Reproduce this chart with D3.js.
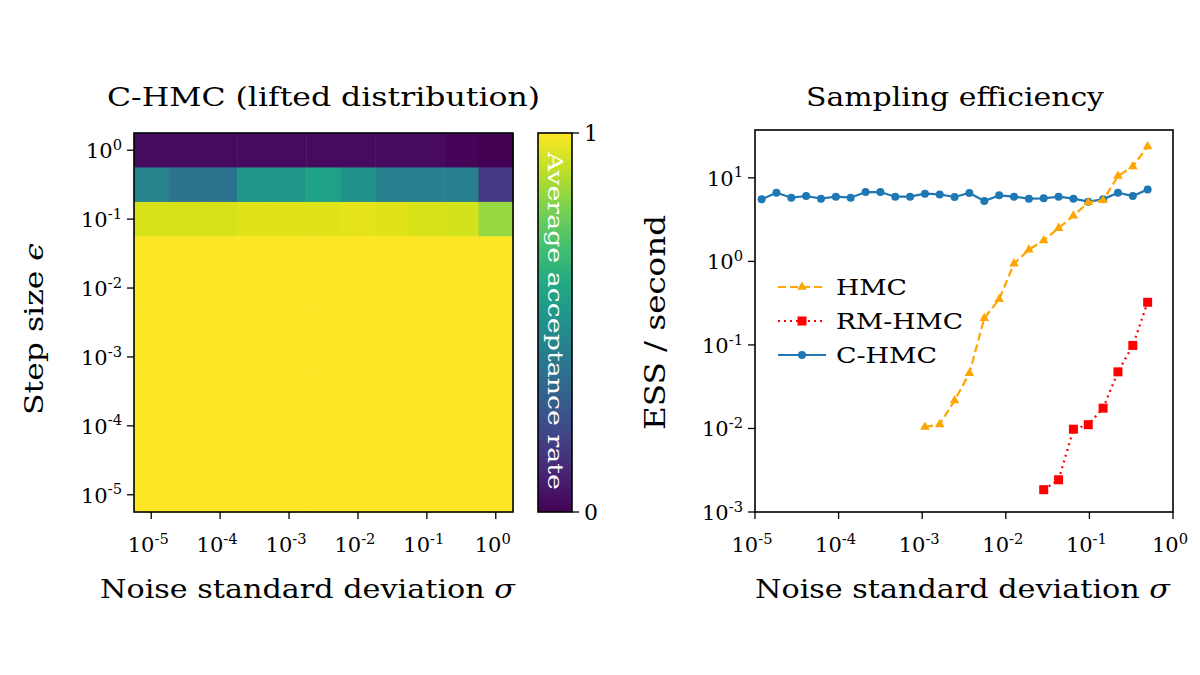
<!DOCTYPE html>
<html><head><meta charset="utf-8">
<script src="https://cdn.jsdelivr.net/npm/d3@7"></script>
<style>body{margin:0;background:#fff}text{font-family:"DejaVu Serif","Liberation Serif",serif;fill:#000}</style>
</head><body><svg id="c" width="1200" height="675"></svg>
<script>
// Heatmap data: log10 of sigma (columns) and log10 of step size (rows, top to bottom)
const sigmaExp = [-5,-4.5,-4,-3.5,-3,-2.5,-2,-1.5,-1,-0.5,0];
const epsExp = [0,-0.5,-1,-1.5,-2,-2.5,-3,-3.5,-4,-4.5,-5];
const acceptance = [
 [0.03,0.03,0.03,0.03,0.03,0.03,0.03,0.03,0.03,0.01,0.0],
 [0.45,0.38,0.38,0.53,0.53,0.57,0.50,0.43,0.43,0.43,0.17],
 [0.94,0.94,0.94,0.95,0.95,0.95,0.96,0.95,0.94,0.93,0.84],
 [1,1,1,1,1,1,1,1,1,1,1],[1,1,1,1,1,1,1,1,1,1,1],[1,1,1,1,1,1,1,1,1,1,1],
 [1,1,1,1,1,1,1,1,1,1,1],[1,1,1,1,1,1,1,1,1,1,1],[1,1,1,1,1,1,1,1,1,1,1],
 [1,1,1,1,1,1,1,1,1,1,1],[1,1,1,1,1,1,1,1,1,1,1]];
// Efficiency data
const sigmaC = [1.2e-5,1.806e-5,2.72e-5,4.09e-5,6.16e-5,9.27e-5,1.395e-4,2.1e-4,3.16e-4,4.76e-4,7.16e-4,1.078e-3,1.62e-3,2.44e-3,3.67e-3,5.53e-3,8.33e-3,1.254e-2,1.887e-2,2.84e-2,4.28e-2,6.44e-2,9.69e-2,0.1459,0.2196,0.3305,0.4975];
const essC = [5.53,6.64,5.79,6.06,5.64,5.95,5.79,6.76,6.76,5.95,5.95,6.46,6.34,5.9,6.58,5.28,6.17,5.95,5.64,5.69,5.95,5.64,5.19,5.53,6.64,6.06,7.26];
const sigmaH = sigmaC.slice(11);
const essH = [0.0104,0.0112,0.0216,0.0459,0.209,0.352,0.94,1.38,1.78,2.5,3.52,5.06,5.38,10.5,13.7,23.7];
const sigmaRM = sigmaC.slice(19);
const essRM = [0.00185,0.00243,0.0098,0.0111,0.0175,0.0476,0.0986,0.324];
const xTicks=[-5,-4,-3,-2,-1,0], yTicksL=[0,-1,-2,-3,-4,-5], yTicksR=[1,0,-1,-2,-3];

const svg=d3.select("#c");
function pow10(g,e,x,y,anchor,size){
  const t=g.append("text").attr("x",x).attr("y",y).attr("text-anchor",anchor).style("font-size",size+"px");
  t.append("tspan").text("10");
  t.append("tspan").attr("dy",-size*0.4).style("font-size",(size*0.7)+"px").text(e);
  return t;
}
function fit(t,len){return t.attr("textLength",len).attr("lengthAdjust","spacingAndGlyphs");}
// Left heatmap
const L={x0:134,x1:513,y0:133,y1:512};
const hx=d3.scaleLinear().domain([-5.25,0.25]).range([L.x0,L.x1]);
const hy=d3.scaleLinear().domain([0.25,-5.25]).range([L.y0,L.y1]);
const col=d3.scaleSequential(d3.interpolateViridis).domain([0,1]);
const gL=svg.append("g");
acceptance.forEach((row,i)=>row.forEach((v,j)=>{
  gL.append("rect").attr("x",hx(sigmaExp[j]-0.25)).attr("y",hy(epsExp[i]+0.25))
   .attr("width",hx(sigmaExp[j]+0.25)-hx(sigmaExp[j]-0.25)+0.5).attr("height",hy(epsExp[i]-0.25)-hy(epsExp[i]+0.25)+0.5).attr("fill",col(v));
}));
gL.append("rect").attr("x",L.x0).attr("y",L.y0).attr("width",L.x1-L.x0).attr("height",L.y1-L.y0).attr("fill","none").attr("stroke","#000").attr("stroke-width",1.6);
xTicks.forEach(e=>{gL.append("line").attr("x1",hx(e)).attr("x2",hx(e)).attr("y1",L.y1).attr("y2",L.y1+7).attr("stroke","#000").attr("stroke-width",1.3);
  pow10(gL,e,hx(e)-3,L.y1+40,"middle",21);});
yTicksL.forEach(e=>{gL.append("line").attr("x1",L.x0-7).attr("x2",L.x0).attr("y1",hy(e)).attr("y2",hy(e)).attr("stroke","#000").attr("stroke-width",1.3);
  pow10(gL,e,L.x0-12,hy(e)+8,"end",21);});
fit(gL.append("text").attr("x",107).attr("y",106).style("font-size","26px").text("C-HMC (lifted distribution)"),433);
fit(gL.append("text").attr("x",100).attr("y",598).style("font-size","26px").html("Noise standard deviation <tspan font-style='italic'>σ</tspan>"),415);
fit(gL.append("text").attr("transform","translate(43,415) rotate(-90)").style("font-size","26px").html("Step size <tspan font-style='italic'>ϵ</tspan>"),172);
// colorbar
const defs=svg.append("defs");const gr=defs.append("linearGradient").attr("id","vg").attr("x1",0).attr("x2",0).attr("y1",1).attr("y2",0);
d3.range(0,1.01,0.1).forEach(t=>gr.append("stop").attr("offset",t).attr("stop-color",col(t)));
const cb={x:538,w:34};const cy=d3.scaleLinear().domain([0,1]).range([512,133]);
svg.append("rect").attr("x",cb.x).attr("y",133).attr("width",cb.w).attr("height",379).attr("fill","url(#vg)").attr("stroke","#000").attr("stroke-width",1.6);
[0,1].forEach(v=>{svg.append("line").attr("x1",cb.x+cb.w).attr("x2",cb.x+cb.w+7).attr("y1",cy(v)).attr("y2",cy(v)).attr("stroke","#000").attr("stroke-width",1.3);
 svg.append("text").attr("x",cb.x+cb.w+12).attr("y",cy(v)+8).style("font-size","22px").text(v);});
fit(svg.append("text").attr("transform",`translate(${cb.x+cb.w/2-7},152) rotate(90)`).style("font-size","21px").style("fill","#fff").text("Average acceptance rate"),338);
// Right plot
const R={x0:755,x1:1173,y0:130,y1:512};
const rx=d3.scaleLog().domain([1e-5,1]).range([R.x0,R.x1]);
const ry=d3.scaleLog().domain([1e-3,37.4]).range([R.y1,R.y0]);
const gR=svg.append("g");
gR.append("rect").attr("x",R.x0).attr("y",R.y0).attr("width",R.x1-R.x0).attr("height",R.y1-R.y0).attr("fill","none").attr("stroke","#000").attr("stroke-width",1.6);
xTicks.forEach(e=>{gR.append("line").attr("x1",rx(10**e)).attr("x2",rx(10**e)).attr("y1",R.y1).attr("y2",R.y1+7).attr("stroke","#000").attr("stroke-width",1.3);
  pow10(gR,e,rx(10**e)-3,R.y1+40,"middle",21);});
yTicksR.forEach(e=>{gR.append("line").attr("x1",R.x0-7).attr("x2",R.x0).attr("y1",ry(10**e)).attr("y2",ry(10**e)).attr("stroke","#000").attr("stroke-width",1.3);
  pow10(gR,e,R.x0-12,ry(10**e)+8,"end",21);});
const line=d3.line().x(d=>rx(d[0])).y(d=>ry(d[1]));
const cC="#1f77b4",cH="orange",cRM="red";
gR.append("path").datum(sigmaC.map((s,i)=>[s,essC[i]])).attr("d",line).attr("fill","none").attr("stroke",cC).attr("stroke-width",2.2);
gR.selectAll(".pc").data(sigmaC.map((s,i)=>[s,essC[i]])).enter().append("circle").attr("cx",d=>rx(d[0])).attr("cy",d=>ry(d[1])).attr("r",4).attr("fill",cC);
gR.append("path").datum(sigmaH.map((s,i)=>[s,essH[i]])).attr("d",line).attr("fill","none").attr("stroke",cH).attr("stroke-width",2.2).attr("stroke-dasharray","8,4");
const tri=d3.symbol().type(d3.symbolTriangle).size(40);
gR.selectAll(".ph").data(sigmaH.map((s,i)=>[s,essH[i]])).enter().append("path").attr("d",tri).attr("transform",d=>`translate(${rx(d[0])},${ry(d[1])})`).attr("fill",cH);
gR.append("path").datum(sigmaRM.map((s,i)=>[s,essRM[i]])).attr("d",line).attr("fill","none").attr("stroke",cRM).attr("stroke-width",2.2).attr("stroke-dasharray","2,4");
gR.selectAll(".pr").data(sigmaRM.map((s,i)=>[s,essRM[i]])).enter().append("rect").attr("x",d=>rx(d[0])-4.5).attr("y",d=>ry(d[1])-4.5).attr("width",9).attr("height",9).attr("fill",cRM);
// legend
const leg=[["HMC",cH,"8,4","tri",71],["RM-HMC",cRM,"2,4","sq",127],["C-HMC",cC,null,"c",101]];
leg.forEach((l,i)=>{const y=287+i*34;
 const ln=gR.append("line").attr("x1",778).attr("x2",826).attr("y1",y).attr("y2",y).attr("stroke",l[1]).attr("stroke-width",2.2);
 if(l[2])ln.attr("stroke-dasharray",l[2]);
 if(l[3]=="tri")gR.append("path").attr("d",tri).attr("transform",`translate(802,${y})`).attr("fill",l[1]);
 else if(l[3]=="sq")gR.append("rect").attr("x",797.5).attr("y",y-4.5).attr("width",9).attr("height",9).attr("fill",l[1]);
 else gR.append("circle").attr("cx",802).attr("cy",y).attr("r",4).attr("fill",l[1]);
 fit(gR.append("text").attr("x",836).attr("y",y+8).style("font-size","23px").text(l[0]),l[4]);});
fit(gR.append("text").attr("x",806).attr("y",106).style("font-size","26px").text("Sampling efficiency"),298);
fit(gR.append("text").attr("x",755).attr("y",598).style("font-size","26px").html("Noise standard deviation <tspan font-style='italic'>σ</tspan>"),415);
fit(gR.append("text").attr("transform","translate(665,430) rotate(-90)").style("font-size","27px").text("ESS / second"),215);
</script></body></html>
